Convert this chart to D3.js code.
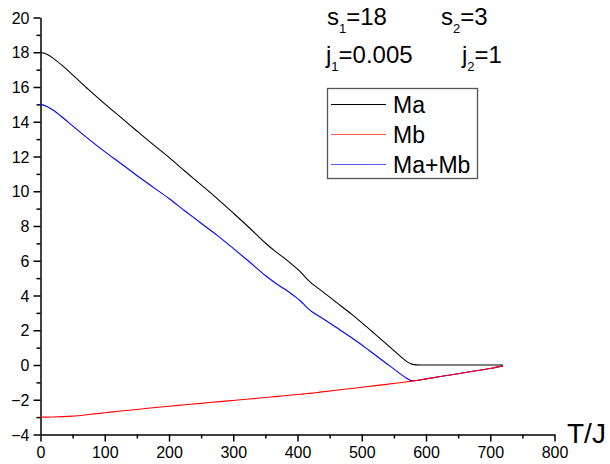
<!DOCTYPE html>
<html>
<head>
<meta charset="utf-8">
<script src="https://cdn.jsdelivr.net/npm/d3@7"></script>
<style>
  body { margin: 0; background: #fff; }
  text { font-family: "Liberation Sans", Arial, sans-serif; }
</style>
</head>
<body>
<svg id="chart" width="610" height="464"></svg>
<script>
// temperature grid (T/J)
const temps = [0, 10, 20, 35, 50, 75, 100, 125, 150, 175, 200, 225, 250, 275, 300, 325, 350, 365, 380, 395, 405, 415, 422, 435, 460, 485, 510, 535, 555, 565, 572, 578, 585, 600, 625, 650, 675, 700, 720];
const ma = [18, 17.88, 17.65, 17.2, 16.7, 15.85, 15.03, 14.25, 13.47, 12.7, 11.95, 11.15, 10.37, 9.58, 8.75, 7.9, 7.02, 6.55, 6.14, 5.68, 5.35, 4.94, 4.7, 4.34, 3.62, 2.9, 2.12, 1.32, 0.67, 0.35, 0.15, 0.05, 0.01, 0, 0, 0, 0, 0, 0];
const mb = [-3.0, -3.0, -2.99, -2.97, -2.94, -2.85, -2.75, -2.65, -2.56, -2.46, -2.37, -2.29, -2.21, -2.12, -2.04, -1.96, -1.87, -1.82, -1.77, -1.71, -1.68, -1.64, -1.62, -1.56, -1.45, -1.35, -1.24, -1.13, -1.04, -0.99, -0.96, -0.93, -0.89, -0.8, -0.65, -0.5, -0.35, -0.2, -0.05];
const mamb = [15.0, 14.88, 14.66, 14.23, 13.76, 13.0, 12.28, 11.6, 10.91, 10.24, 9.58, 8.86, 8.16, 7.46, 6.71, 5.94, 5.15, 4.73, 4.37, 3.97, 3.67, 3.3, 3.08, 2.78, 2.17, 1.55, 0.88, 0.19, -0.37, -0.64, -0.81, -0.9, -0.89, -0.8, -0.65, -0.5, -0.35, -0.2, -0.05];

const seriesNames = ["Ma", "Mb", "Ma+Mb"];
const seriesColors = ["#000000", "#ff0000", "#0000ff"];
const xTicks = [0, 100, 200, 300, 400, 500, 600, 700, 800];
const yTicks = [-4, -2, 0, 2, 4, 6, 8, 10, 12, 14, 16, 18, 20];

const svg = d3.select("#chart");

const x = d3.scaleLinear().domain([0, 800]).range([40.5, 554.5]);
const y = d3.scaleLinear().domain([-4, 20]).range([434.5, 17.5]);

// minor ticks first
svg.append("g")
    .attr("transform", "translate(0,434.5)")
    .call(d3.axisBottom(x).tickValues(d3.range(50, 800, 100)).tickSize(4).tickFormat(""))
    .call(g => g.select(".domain").remove())
    .selectAll("line").attr("stroke-width", 1.5);
svg.append("g")
    .attr("transform", "translate(40.5,0)")
    .call(d3.axisLeft(y).tickValues(d3.range(-3, 20, 2)).tickSize(4).tickFormat(""))
    .call(g => g.select(".domain").remove())
    .selectAll("line").attr("stroke-width", 1.5);

// major axes
const xAxis = svg.append("g")
    .attr("transform", "translate(0,434.5)")
    .call(d3.axisBottom(x).tickValues(xTicks).tickSize(7).tickSizeOuter(0).tickPadding(5));
const yAxis = svg.append("g")
    .attr("transform", "translate(40.5,0)")
    .call(d3.axisLeft(y).tickValues(yTicks).tickSize(7).tickSizeOuter(0).tickPadding(4));

[xAxis, yAxis].forEach(a => {
    a.select(".domain").attr("stroke-width", 1.5);
    a.selectAll(".tick line").attr("stroke-width", 1.5);
    a.selectAll("text")
        .style("font-family", "'Liberation Sans', Arial, sans-serif")
        .style("font-size", "16px")
        .attr("fill", "#000");
});
yAxis.selectAll("text").attr("dy", "0.35em");

// curves
const allSeries = [ma, mb, mamb];
const line = d3.line()
    .x((d, i) => x(temps[i]))
    .y(d => y(d))
    .curve(d3.curveMonotoneX);

// Ma+Mb under Mb so the shared tail blends like the original
[0, 2, 1].forEach(k => {
    svg.append("path")
        .datum(allSeries[k])
        .attr("fill", "none")
        .attr("stroke", seriesColors[k])
        .attr("stroke-width", 1.1)
        .attr("d", line);
});

// axis title
svg.append("text")
    .attr("x", 567)
    .attr("y", 443)
    .style("font-size", "28px")
    .text("T/J");

// parameter labels with subscripts
function subLabel(xp, yp, base, sub, rest) {
    const t = svg.append("text")
        .attr("x", xp)
        .attr("y", yp)
        .style("font-size", "24px");
    t.append("tspan").text(base);
    t.append("tspan").attr("dy", 8).style("font-size", "13px").text(sub);
    t.append("tspan").attr("dy", -8).text(rest);
}
subLabel(327, 25, "s", "1", "=18");
subLabel(441, 25, "s", "2", "=3");
subLabel(326, 63, "j", "1", "=0.005");
subLabel(462, 63, "j", "2", "=1");

// legend
const legend = svg.append("g");
legend.append("rect")
    .attr("x", 327.5)
    .attr("y", 88.5)
    .attr("width", 150)
    .attr("height", 90)
    .attr("fill", "#fff")
    .attr("stroke", "#555")
    .attr("stroke-width", 1.3);
seriesNames.forEach((name, i) => {
    const ly = 104.5 + i * 30;
    legend.append("line")
        .attr("x1", 331)
        .attr("x2", 386)
        .attr("y1", ly)
        .attr("y2", ly)
        .attr("stroke", seriesColors[i])
        .attr("stroke-opacity", i === 0 ? 1 : 0.65)
        .attr("stroke-width", 1.2);
    legend.append("text")
        .attr("x", 393)
        .attr("y", ly + 8)
        .style("font-size", "23px")
        .text(name);
});
</script>
</body>
</html>
